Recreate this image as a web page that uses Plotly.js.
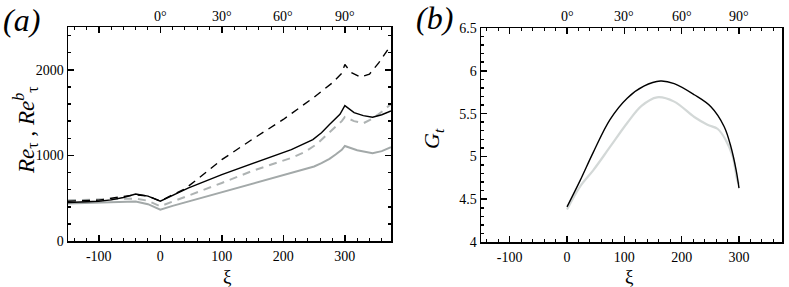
<!DOCTYPE html>
<html>
<head>
<meta charset="utf-8">
<script src="https://cdn.plot.ly/plotly-3.0.1.min.js"></script>
<style>html,body{margin:0;padding:0;background:#fff}#chart{width:789px;height:287px}</style>
</head>
<body>
<div id="chart"></div>
<script>
// ---- Panel (a) data: Re_tau and Re_tau^b vs xi ----
const blackSolidXi = [-150,-120,-100,-80,-60,-40,-20,0,20,46,100,160,213,248,262,275,292,300,315,330,345,360,375];
const blackSolidRe = [449,455,465,480,508,548,525,465,530,620,775,935,1068,1185,1265,1360,1480,1582,1500,1465,1446,1475,1520];

const blackDashXi = [-150,-100,-60,-40,-20,0,20,40,60,80,100,150,200,250,280,295,300,310,325,340,355,375];
const blackDashRe = [465,478,520,540,525,468,540,610,720,840,950,1190,1420,1680,1850,1960,2062,1970,1915,1950,2080,2290];

const grayDashXi = [-150,-100,-60,-40,-20,0,20,50,100,150,213,235,255,275,295,300,315,330,345,360,375];
const grayDashRe = [476,482,490,496,470,405,460,540,678,820,971,1040,1135,1270,1400,1450,1400,1375,1430,1510,1600];

const graySolidXi = [-150,-100,-60,-40,-20,0,20,50,100,150,213,230,250,262,275,285,295,300,320,345,360,375];
const graySolidRe = [437,445,455,461,430,365,410,470,570,665,795,830,870,910,960,1010,1065,1110,1060,1025,1050,1095];

// ---- Panel (b) data: G_t vs xi ----
const gBlackXi = [0,23,46,75,105,134,163,187,222,251,274,286,295,300];
const gBlack   = [4.41,4.72,5.05,5.43,5.68,5.82,5.88,5.85,5.72,5.58,5.35,5.11,4.84,4.63];
const gGrayXi  = [0,23,46,75,105,130,157,187,222,245,263,277,289,297,300];
const gGray    = [4.38,4.65,4.84,5.11,5.39,5.59,5.69,5.64,5.46,5.37,5.32,5.19,5.00,4.72,4.68];

// ---- Tick labels ----
const xTickVals = [-100,0,100,200,300];
const xTickText = ['-100','0','100','200','300'];
const angTickVals = [0,100,200,300];
const angTickText = ['0°','30°','60°','90°'];
const yaTickVals = [0,1000,2000];
const yaTickText = ['0','1000','2000'];
const ybTickVals = [4,4.5,5,5.5,6,6.5];
const ybTickText = ['4','4.5','5','5.5','6','6.5'];

const FONT = 'Liberation Serif';
const dashA = '8px,6px';

const traces = [
  {x: graySolidXi, y: graySolidRe, mode:'lines', line:{color:'#a3a9a9', width:2}, xaxis:'x', yaxis:'y'},
  {x: grayDashXi, y: grayDashRe, mode:'lines', line:{color:'#aeb3b3', width:2, dash:dashA}, xaxis:'x', yaxis:'y'},
  {x: blackSolidXi, y: blackSolidRe, mode:'lines', line:{color:'#000', width:1.4}, xaxis:'x', yaxis:'y'},
  {x: blackDashXi, y: blackDashRe, mode:'lines', line:{color:'#000', width:1.4, dash:dashA}, xaxis:'x', yaxis:'y'},
  {x: gGrayXi, y: gGray, mode:'lines', line:{color:'#d3d8d7', width:2.2, shape:'spline'}, xaxis:'x2', yaxis:'y2'},
  {x: gBlackXi, y: gBlack, mode:'lines', line:{color:'#000', width:1.4, shape:'spline'}, xaxis:'x2', yaxis:'y2'}
];

const minorX = {dtick:20, ticklen:3, tickcolor:'#000', ticks:'inside', tickwidth:1};

function bottomX(domain, anchor){
  return {domain, anchor, range:[-150,375], tickmode:'array', tickvals:xTickVals, ticktext:xTickText,
    ticks:'inside', ticklen:6, tickwidth:1.5, tickcolor:'#000', minor:minorX,
    showline:true, linecolor:'#000', linewidth:1.5, mirror:'allticks', showgrid:false, zeroline:false,
    tickfont:{family: FONT, size: 14, color:'#000'}, ticklabelstandoff:2, fixedrange:true};
}

const annotations = [
  {text:'<i>(a)</i>', x:21/789, y:1-20/287, xref:'paper', yref:'paper', showarrow:false, xanchor:'center', yanchor:'middle', font:{family:FONT, size:32, color:'#000'}},
  {text:'<i>(b)</i>', x:434/789, y:1-18/287, xref:'paper', yref:'paper', showarrow:false, xanchor:'center', yanchor:'middle', font:{family:FONT, size:32, color:'#000'}},
  {text:'<i>Re</i><sub>τ</sub> , <i>Re</i><sup><i>b</i></sup><sub>τ</sub>', x:25/789, y:1-130/287, xref:'paper', yref:'paper', showarrow:false, textangle:-90, xanchor:'center', yanchor:'middle', font:{family:FONT, size:23, color:'#000'}},
  {text:'<i>G</i><sub><i>t</i></sub>', x:433/789, y:1-138/287, xref:'paper', yref:'paper', showarrow:false, textangle:-90, xanchor:'center', yanchor:'middle', font:{family:FONT, size:22, color:'#000'}},
  {text:'ξ', x:228/789, y:1-265/287, xref:'paper', yref:'paper', showarrow:false, xanchor:'center', yanchor:'top', borderpad:0, font:{family:FONT, size:19, color:'#000'}},
  {text:'ξ', x:629/789, y:1-265/287, xref:'paper', yref:'paper', showarrow:false, xanchor:'center', yanchor:'top', borderpad:0, font:{family:FONT, size:19, color:'#000'}}
];
// top angle labels positioned through each panel's x scale
['x','x2'].forEach(function(ax){
  angTickVals.forEach(function(v, i){
    annotations.push({text: angTickText[i], x: v, xref: ax, y: 1-17/287, yref:'paper', showarrow:false,
      xanchor:'center', yanchor:'middle', font:{family:FONT, size:14, color:'#000'}});
  });
});

const layout = {
  width:789, height:287, margin:{l:0,r:0,t:0,b:0}, showlegend:false,
  font:{family:FONT, size:14, color:'#000'},
  paper_bgcolor:'#fff', plot_bgcolor:'#fff',
  xaxis: bottomX([68/789, 391/789], 'y'),
  yaxis: {domain:[1-241/287, 1-27/287], anchor:'x', range:[0,2500], tickmode:'array', tickvals:yaTickVals, ticktext:yaTickText,
    ticks:'inside', ticklen:6, tickwidth:1.5, tickcolor:'#000',
    minor:{dtick:200, ticklen:3, tickcolor:'#000', ticks:'inside'},
    showline:true, linecolor:'#000', linewidth:1.5, mirror:'allticks', showgrid:false, zeroline:false,
    tickfont:{family: FONT, size: 14, color:'#000'}, fixedrange:true},
  xaxis2: bottomX([481/789, 782/789], 'y2'),
  yaxis2: {domain:[1-242/287, 1-28/287], anchor:'x2', range:[4,6.5], tickmode:'array', tickvals:ybTickVals, ticktext:ybTickText,
    ticks:'inside', ticklen:6, tickwidth:1.5, tickcolor:'#000',
    minor:{dtick:0.1, ticklen:3, tickcolor:'#000', ticks:'inside'},
    showline:true, linecolor:'#000', linewidth:1.5, mirror:true, showgrid:false, zeroline:false,
    tickfont:{family: FONT, size: 14, color:'#000'}, fixedrange:true},
  annotations: annotations
};

Plotly.newPlot('chart', traces, layout, {staticPlot:true, displayModeBar:false});
</script>
</body>
</html>
